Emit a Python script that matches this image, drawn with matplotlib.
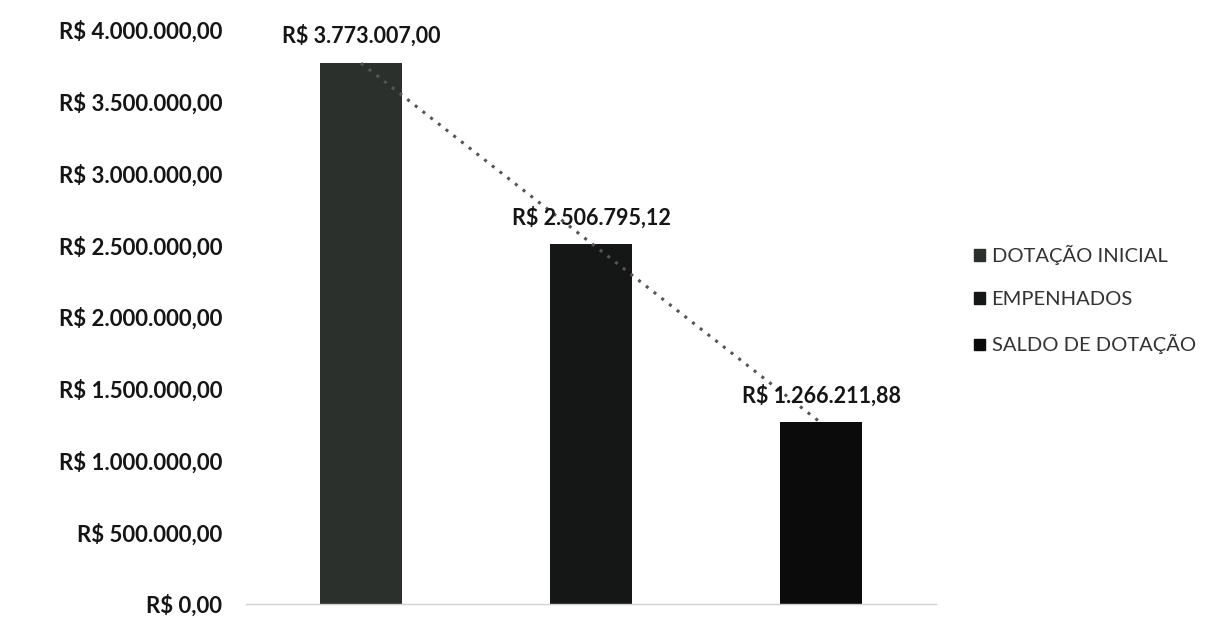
import numpy as np
import matplotlib.pyplot as plt
from matplotlib.patches import Patch
from matplotlib.ticker import FuncFormatter

# dados
categorias = ['DOTAÇÃO INICIAL', 'EMPENHADOS', 'SALDO DE DOTAÇÃO']
valores = [3773007.00, 2506795.12, 1266211.88]
cores = ['#2b302d', '#141715', '#0b0b0b']
yticks = np.arange(0, 4000001, 500000)


def brl(v, pos=None):
    s = f'{v:,.2f}'
    s = s.replace(',', 'X').replace('.', ',').replace('X', '.')
    return f'R$ {s}'


plt.rcParams['font.family'] = ['Lato', 'DejaVu Sans']

fig = plt.figure(figsize=(12.09, 6.18), dpi=100)
ax = fig.add_axes((0.2035, 0.0227, 0.5707, 0.9288))

x = np.arange(len(valores))
ax.bar(x, valores, width=0.36, color=cores, zorder=2)

# linha de tendencia (linear)
coef = np.polyfit(x, valores, 1)
ax.plot(x, np.polyval(coef, x), ls=(0, (1, 2.2)), lw=2.2, c='#555555', zorder=3)

for xi, v in zip(x, valores):
    ax.annotate(brl(v), (xi, v), xytext=(0, 27), textcoords='offset pixels',
                ha='center', va='center', fontsize=15.5, fontweight='bold',
                color='#151515', zorder=4)

ax.set_xlim(-0.5, 2.5)
ax.set_ylim(0, 4000000)
ax.set_yticks(yticks)
ax.yaxis.set_major_formatter(FuncFormatter(brl))
ax.set_xticks([])
ax.tick_params(axis='y', length=0, pad=17, labelsize=16, labelcolor='#151515')
for t in ax.get_yticklabels():
    t.set_fontweight('bold')

for s in ['top', 'right', 'left']:
    ax.spines[s].set_visible(False)
ax.spines['bottom'].set_color('#d0d0d0')
ax.spines['bottom'].set_linewidth(1)

handles = [Patch(color=c) for c in cores]
fig.legend(handles, categorias, loc='center left', bbox_to_anchor=(0.791, 0.515),
           frameon=False, fontsize=14.5, handlelength=0.5, handleheight=0.5,
           handletextpad=0.35, labelspacing=1.3, labelcolor='#333333')

fig.savefig('out.png', dpi=100)
